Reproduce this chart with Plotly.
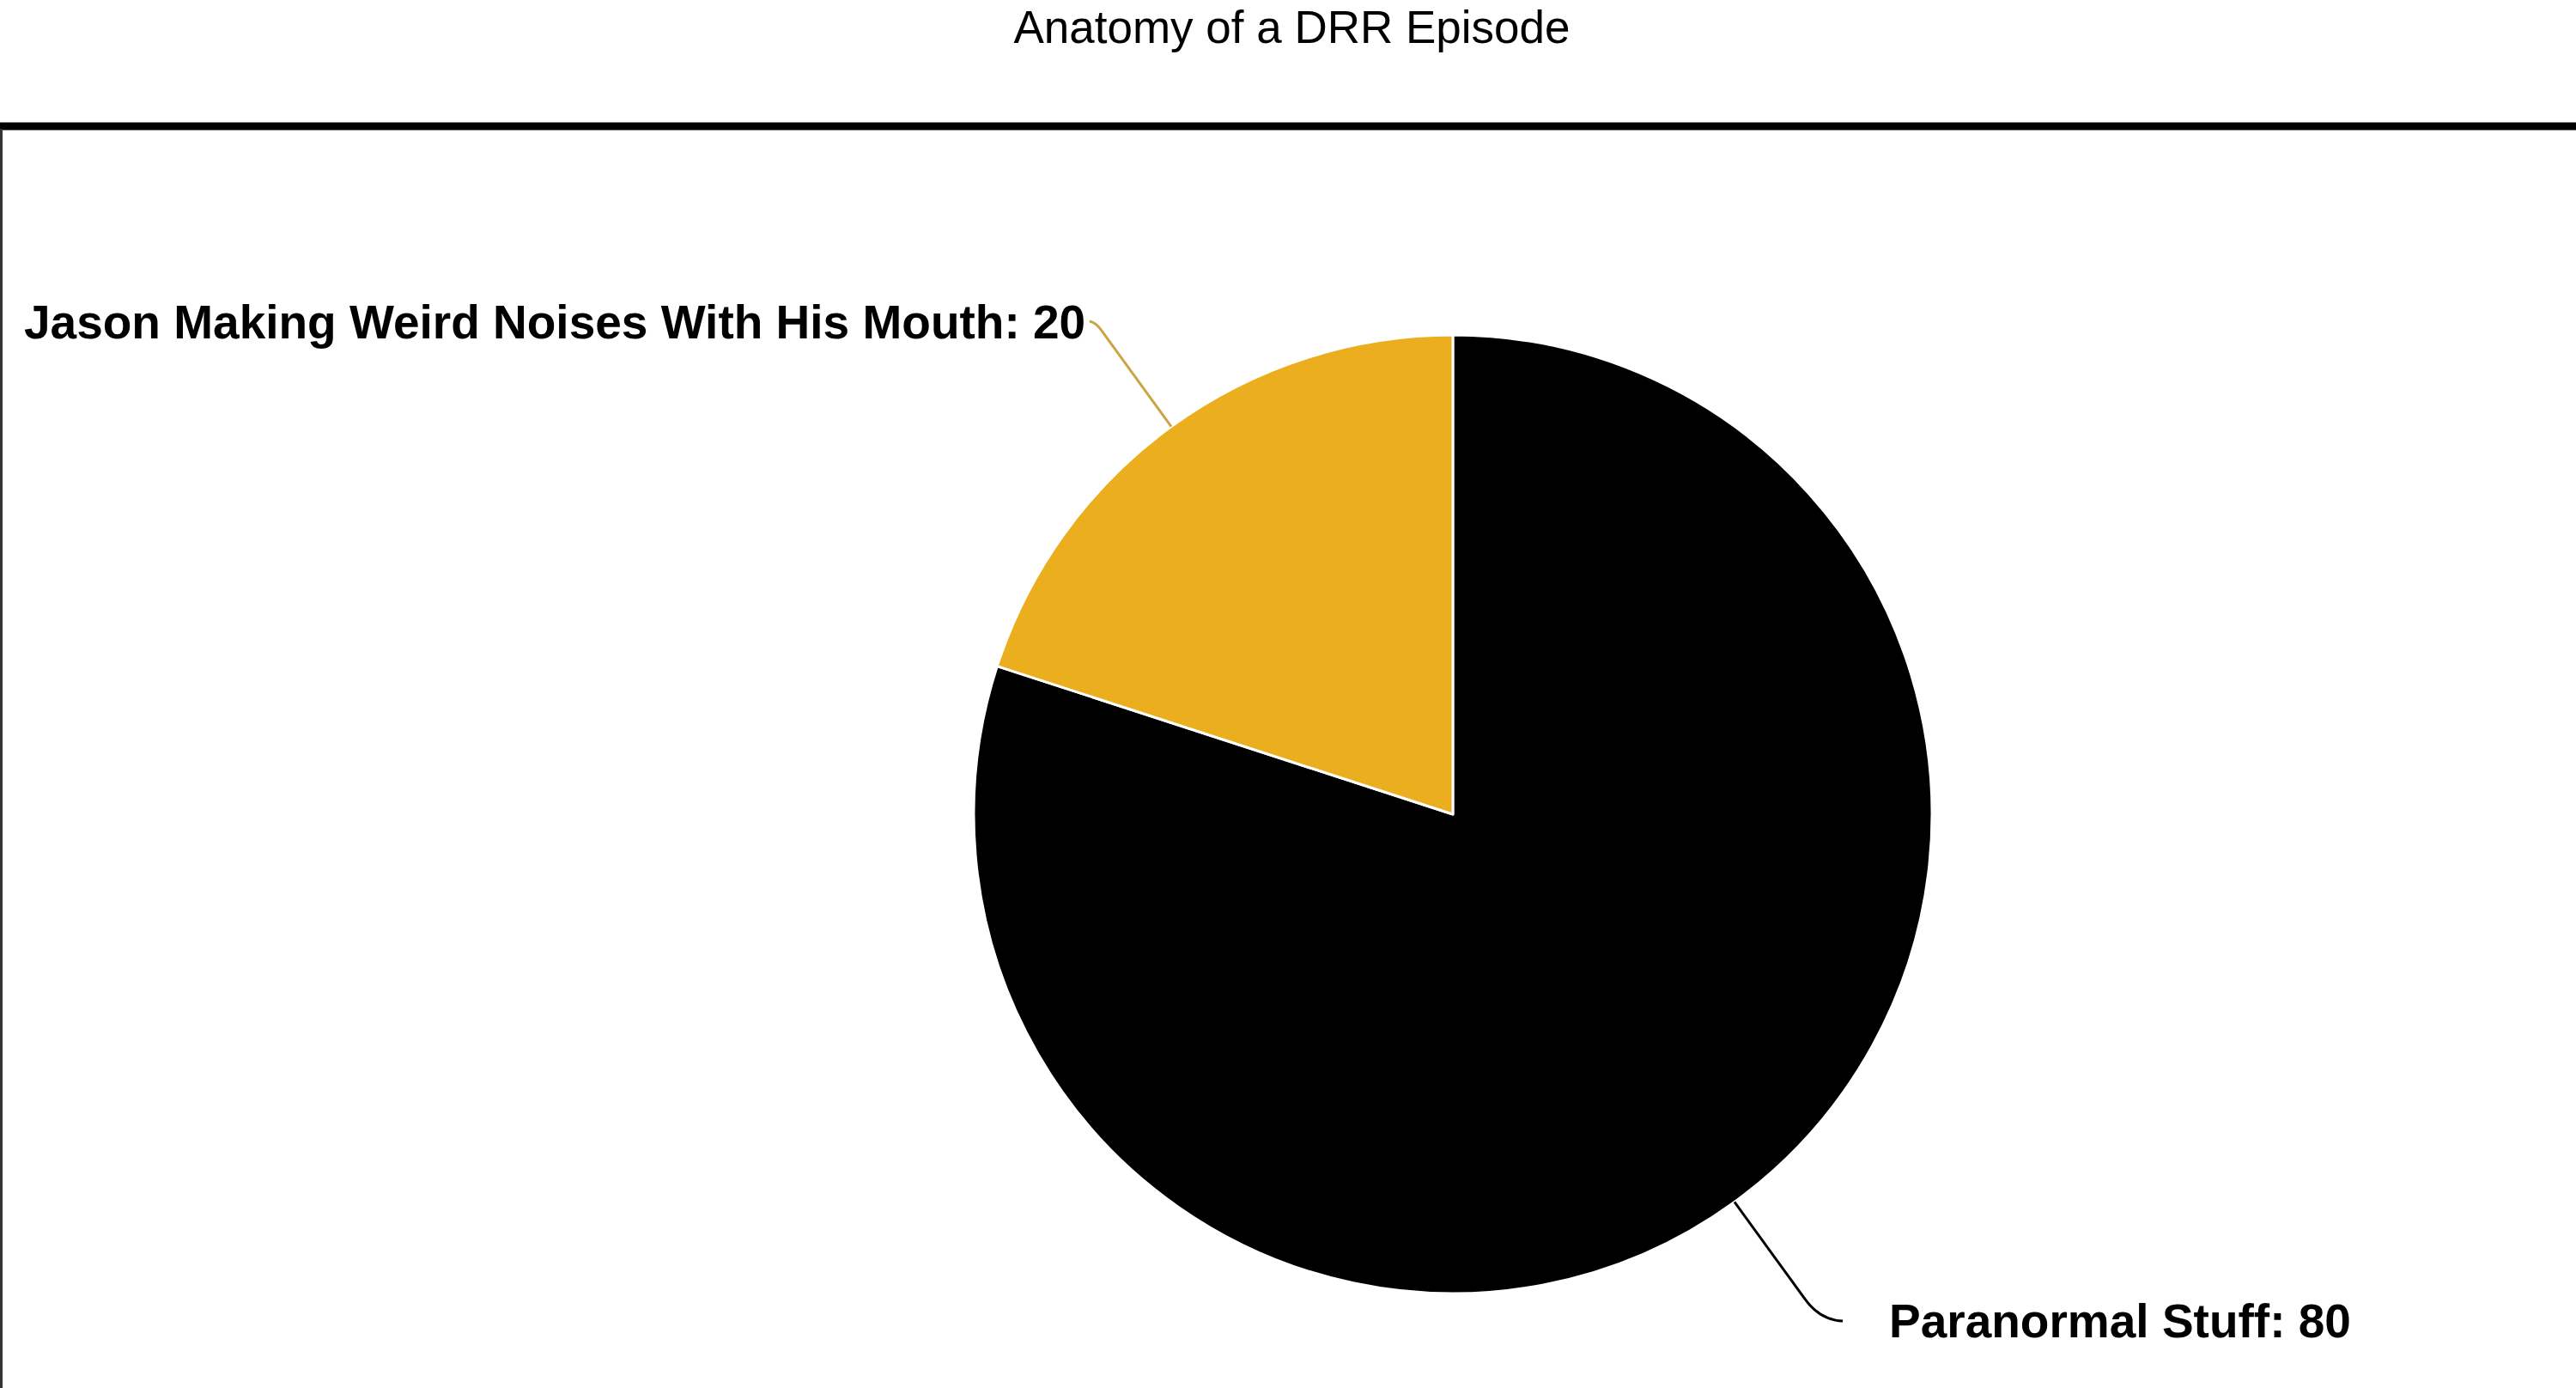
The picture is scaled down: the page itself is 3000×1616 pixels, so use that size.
import math
import plotly.graph_objects as go

# clockwise from 12 o'clock: Paranormal first, Jason fills the last wedge
labels = ['Paranormal Stuff', 'Jason Making Weird Noises With His Mouth']
values = [80, 20]
colors = ['#000000', '#EBAE1E']
leader_colors = ['#000000', '#C9A544']

W, H = 3000, 1616
# pie geometry in pixels (matches the domain below)
cx, cy, r = 1692, 948, 558


def px(x, y):
    # pixel coords (top-left origin) -> paper coords
    return x / W, 1 - y / H


fig = go.Figure()
fig.add_trace(go.Pie(
    labels=labels, values=values, sort=False,
    direction='clockwise', rotation=0,
    marker=dict(colors=colors, line=dict(color='white', width=3)),
    textinfo='none', hoverinfo='label+value', showlegend=False,
    domain=dict(x=[(cx - r) / W, (cx + r) / W],
                y=[(H - cy - r) / H, (H - cy + r) / H]),
))

# leader lines + labels, placed from each slice's mid angle
total = sum(values)
start = 0
shapes = []
annotations = []
for i, (lab, val) in enumerate(zip(labels, values)):
    mid = (start + val / 2) / total * 2 * math.pi
    start += val
    # clockwise from 12 o'clock
    dx, dy = math.sin(mid), -math.cos(mid)
    ex, ey = cx + dx * r, cy + dy * r
    kx, ky = cx + dx * (r + 138), cy + dy * (r + 138)
    if dx < 0:
        endx, endy = kx - 14, ky - 11
        cxp, cyp = kx - 6, ky - 9
        tx, ty, anchor = endx - 3, endy + 1, 'right'
    else:
        endx, endy = kx + 45, ky + 27
        cxp, cyp = kx + 18, ky + 26
        tx, ty, anchor = endx + 52, endy + 0, 'left'
    p0 = px(ex, ey)
    p1 = px(kx, ky)
    pc = px(cxp, cyp)
    p2 = px(endx, endy)
    shapes.append(dict(
        type='path', xref='paper', yref='paper',
        path=f'M {p0[0]} {p0[1]} L {p1[0]} {p1[1]} Q {pc[0]} {pc[1]} {p2[0]} {p2[1]}',
        line=dict(color=leader_colors[i], width=3)))
    t = px(tx, ty)
    annotations.append(dict(
        x=t[0], y=t[1], xref='paper', yref='paper',
        xanchor=anchor, yanchor='middle', showarrow=False,
        text=f'<b>{lab}: {val}</b>',
        font=dict(family='Liberation Sans, Arial', size=55, color='black')))

# frame: thick rule under the title, thin line on the left
shapes.append(dict(type='line', xref='paper', yref='paper',
                   x0=0, x1=1, y0=1 - 147 / H, y1=1 - 147 / H,
                   line=dict(color='black', width=9)))
shapes.append(dict(type='line', xref='paper', yref='paper',
                   x0=1.5 / W, x1=1.5 / W, y0=0, y1=1 - 150 / H,
                   line=dict(color='#333333', width=3)))

fig.update_layout(
    width=W, height=H,
    margin=dict(l=0, r=0, t=0, b=0),
    paper_bgcolor='white', plot_bgcolor='white',
    title=dict(text='Anatomy of a DRR Episode', x=0.5015, xanchor='center',
               y=1 - 31 / H, yanchor='middle', yref='container',
               font=dict(family='Liberation Sans, Arial', size=53, color='black')),
    shapes=shapes, annotations=annotations,
)

# drop the page's default body margin so the figure sits at (0, 0)
fig.write_html("out.html", config={'displayModeBar': False},
               post_script="document.body.style.margin='0px';")
